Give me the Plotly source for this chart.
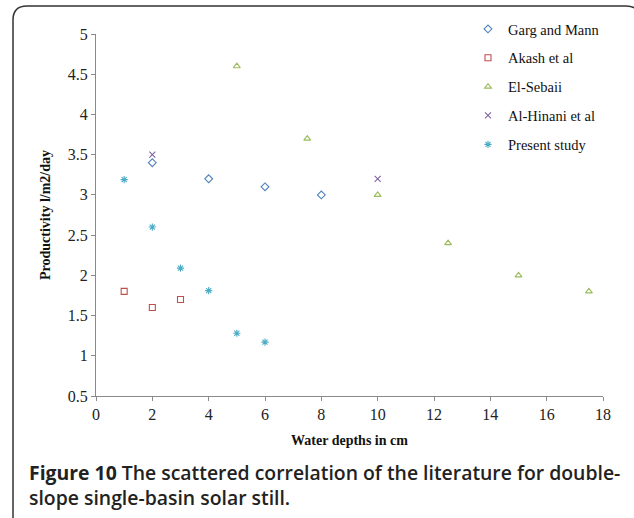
import plotly.graph_objects as go

garg_x = [2, 4, 6, 8]
garg_y = [3.4, 3.2, 3.1, 3.0]
akash_x = [1, 2, 3]
akash_y = [1.8, 1.6, 1.7]
sebaii_x = [5, 7.5, 10, 12.5, 15, 17.5]
sebaii_y = [4.6, 3.7, 3.0, 2.4, 2.0, 1.8]
hinani_x = [2, 10]
hinani_y = [3.5, 3.2]
present_x = [1, 2, 3, 4, 5, 6]
present_y = [3.19, 2.6, 2.09, 1.81, 1.28, 1.17]

x_ticks = [0, 2, 4, 6, 8, 10, 12, 14, 16, 18]
y_ticks = [0.5, 1, 1.5, 2, 2.5, 3, 3.5, 4, 4.5, 5]

series = [
    ("Garg and Mann", garg_x, garg_y, "diamond-open", "#4F81BD", 6),
    ("Akash et al", akash_x, akash_y, "square-open", "#C0504D", 6),
    ("El-Sebaii", sebaii_x, sebaii_y, "triangle-up-open", "#9BBB59", 6),
    ("Al-Hinani et al", hinani_x, hinani_y, "x-thin-open", "#8064A2", 6),
    ("Present study", present_x, present_y, "asterisk-open", "#4BACC6", 6),
]

SERIF = "Liberation Serif, Times New Roman, serif"
SANS = "Open Sans, Lato, sans-serif"

fig = go.Figure()
for i, (name, xs, ys, sym, col, sz) in enumerate(series):
    fig.add_trace(go.Scatter(
        x=xs, y=ys, mode="markers", name=name, legendgroup=str(i),
        marker=dict(symbol=sym, size=sz, color=col, line=dict(color=col, width=1.1)),
    ))

W, H = 634, 518
L, R, T, B = 96, 603, 34, 396

def px(x):
    return (x - L) / (R - L)

def py(y):
    return (B - y) / (B - T)

# rounded border (open on right/bottom as in the reference)
x0, y0, x1, y1, r = 13, 6, 640, 524, 14
path = (
    f"M {px(x0)},{py(y1)} "
    f"L {px(x0)},{py(y0 + r)} "
    f"Q {px(x0)},{py(y0)} {px(x0 + r)},{py(y0)} "
    f"L {px(x1 - r)},{py(y0)} "
    f"Q {px(x1)},{py(y0)} {px(x1)},{py(y0 + r)} "
)

caption = ("<b>Figure 10</b> The scattered correlation of the literature for double-"
           "<br>slope single-basin solar still.")

fig.update_layout(
    width=W, height=H,
    margin=dict(l=L, r=W - R, t=T, b=H - B),
    paper_bgcolor="white", plot_bgcolor="white",
    font=dict(family=SERIF, color="#222222", size=15),
    showlegend=True,
    legend=dict(
        x=px(468), y=py(13), xanchor="left", yanchor="top",
        font=dict(family=SERIF, size=14.5, color="#111111"),
        bgcolor="rgba(0,0,0,0)", tracegroupgap=7, itemwidth=30,
    ),
    xaxis=dict(
        range=[0, 18], tickvals=x_ticks, ticktext=[str(v) for v in x_ticks],
        showgrid=False, zeroline=False, showline=True, linecolor="#8a8a8a", linewidth=1,
        ticks="outside", ticklen=4, tickcolor="#8a8a8a",
        tickfont=dict(family=SERIF, size=16, color="#222222"),
        title=dict(text="<b>Water depths in cm</b>", font=dict(family=SERIF, size=14, color="#111111"), standoff=12),
    ),
    yaxis=dict(
        range=[0.5, 5], tickvals=y_ticks, ticktext=[f"{v:g}" for v in y_ticks],
        showgrid=False, zeroline=False, showline=True, linecolor="#8a8a8a", linewidth=1,
        ticks="outside", ticklen=4, tickcolor="#8a8a8a",
        tickfont=dict(family=SERIF, size=16, color="#222222"),
        title=dict(text="<b>Productivity l/m2/day</b>", font=dict(family=SERIF, size=14, color="#111111"), standoff=13),
    ),
    shapes=[dict(type="path", path=path, xref="paper", yref="paper",
                 line=dict(color="#333333", width=1.5))],
    annotations=[
        dict(text=caption,
             x=px(27), y=py(485), xref="paper", yref="paper", xanchor="left", yanchor="middle",
             align="left", showarrow=False,
             font=dict(family=SANS, size=19.4, color="#222222", weight=600)),
    ],
)

fig.write_html("out.html", config={"displayModeBar": False},
               post_script="document.body.style.margin='0';document.body.style.padding='0';")
